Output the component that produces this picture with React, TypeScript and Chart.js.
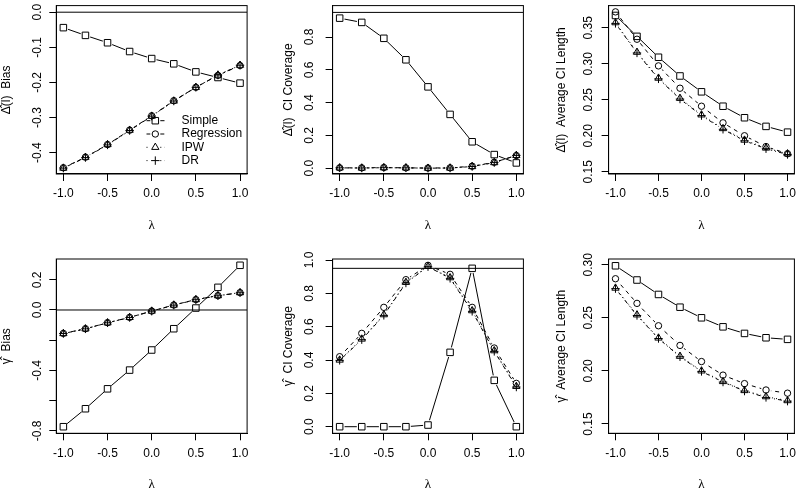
import React, { useEffect, useRef } from "react";
import { Chart, registerables } from "chart.js";

Chart.register(...registerables);

// ---------------- data ----------------
const LAMBDA = [-1, -0.75, -0.5, -0.25, 0, 0.25, 0.5, 0.75, 1];
const X_TICKS = [-1, -0.5, 0, 0.5, 1];
const SERIES = ["Simple", "Regression", "IPW", "DR"];

// Δ̂(l) Bias
const DB_SIMPLE = [-0.044, -0.066, -0.087, -0.112, -0.132, -0.147, -0.17, -0.186, -0.202];
const DB_REG = [-0.443, -0.413, -0.377, -0.336, -0.295, -0.252, -0.214, -0.18, -0.152];
const DB_IPW = [-0.444, -0.413, -0.377, -0.336, -0.296, -0.253, -0.214, -0.179, -0.151];
const DB_DR = [-0.444, -0.414, -0.378, -0.337, -0.296, -0.253, -0.214, -0.179, -0.151];

// Δ̂(l) CI Coverage
const DC_SIMPLE = [0.915, 0.889, 0.792, 0.661, 0.496, 0.328, 0.161, 0.083, 0.032];
const DC_REG = [0.002, 0.002, 0.004, 0.002, 0.001, 0.002, 0.012, 0.036, 0.077];
const DC_IPW = [0.002, 0.001, 0.003, 0.002, 0.0, 0.001, 0.01, 0.034, 0.078];
const DC_DR = [0.002, 0.001, 0.003, 0.002, 0.0, 0.001, 0.01, 0.034, 0.078];

// Δ̂(l) Average CI Length
const DL_SIMPLE = [0.367, 0.338, 0.309, 0.283, 0.261, 0.241, 0.225, 0.213, 0.205];
const DL_REG = [0.372, 0.334, 0.297, 0.266, 0.241, 0.218, 0.2, 0.185, 0.175];
const DL_IPW = [0.357, 0.316, 0.28, 0.252, 0.229, 0.21, 0.194, 0.183, 0.175];
const DL_DR = [0.356, 0.315, 0.279, 0.251, 0.228, 0.209, 0.193, 0.182, 0.174];

// γ̂ Bias
const GB_SIMPLE = [-0.773, -0.654, -0.522, -0.398, -0.265, -0.124, 0.013, 0.15, 0.296];
const GB_REG = [-0.155, -0.124, -0.084, -0.049, -0.007, 0.033, 0.069, 0.095, 0.115];
const GB_IPW = [-0.156, -0.125, -0.085, -0.049, -0.007, 0.033, 0.069, 0.095, 0.115];
const GB_DR = [-0.156, -0.125, -0.085, -0.05, -0.008, 0.032, 0.068, 0.094, 0.114];

// γ̂ CI Coverage
const GC_SIMPLE = [0.0, 0.0, 0.0, 0.0, 0.01, 0.446, 0.95, 0.278, 0.0];
const GC_REG = [0.42, 0.56, 0.716, 0.882, 0.968, 0.914, 0.716, 0.472, 0.26];
const GC_IPW = [0.4, 0.526, 0.672, 0.866, 0.962, 0.894, 0.696, 0.456, 0.242];
const GC_DR = [0.398, 0.522, 0.668, 0.862, 0.96, 0.89, 0.692, 0.452, 0.238];

// γ̂ Average CI Length
const GL_SIMPLE = [0.299, 0.2856, 0.272, 0.26, 0.25, 0.2415, 0.2353, 0.2312, 0.2297];
const GL_REG = [0.2868, 0.2636, 0.2425, 0.224, 0.2088, 0.196, 0.188, 0.182, 0.179];
const GL_IPW = [0.278, 0.2528, 0.231, 0.2138, 0.2, 0.19, 0.1815, 0.1757, 0.172];
const GL_DR = [0.2775, 0.2522, 0.2305, 0.2133, 0.1995, 0.1895, 0.181, 0.175, 0.1715];

// axis ticks
const DB_YTICKS = [0, -0.1, -0.2, -0.3, -0.4];
const DC_YTICKS = [0, 0.2, 0.4, 0.6, 0.8];
const DL_YTICKS = [0.15, 0.2, 0.25, 0.3, 0.35];
const GB_YTICKS = [0.2, 0, -0.2, -0.4, -0.6, -0.8];
const GB_YLABELS = [0.2, 0, -0.4, -0.8];
const GC_YTICKS = [0, 0.2, 0.4, 0.6, 0.8, 1.0];
const GL_YTICKS = [0.15, 0.2, 0.25, 0.3];

// ---------------- layout / style ----------------
const FONT = '"Liberation Sans", Arial, Helvetica, sans-serif';
const SERIF = '"Liberation Serif", "DejaVu Serif", serif';
const CW = 800;
const CH = 520;
const XMIN = -1.08;
const XMAX = 1.08;
const YW = 56;
const XH = 60;
const COL_L = [56.3, 332.6, 608.6];
const BOX_W = 190.8;
const ROW_T = [0.5, 259];
const ROW_B = [174, 433.3];
const YLAB_X = [38, 309.5, 588.3];
const YTITLE_X = [7, 289, 562];

const STYLES = [
  { style: "rect", r: 4.6, dash: [] as number[] },
  { style: "circle", r: 3.2, dash: [4, 4] },
  { style: "triangle", r: 4.2, dash: [1, 3] },
  { style: "cross", r: 4.2, dash: [1, 3, 4, 3] },
];

type PanelCfg = {
  row: number;
  col: number;
  ymin: number;
  ymax: number;
  yTicks: number[];
  yLabels: number[];
  dec: number;
  ref: number | null;
  title: string;
  values: number[][];
  legend: boolean;
};

const PANELS: PanelCfg[] = [
  { row: 0, col: 0, ymin: -0.4608, ymax: 0.0188, yTicks: DB_YTICKS, yLabels: DB_YTICKS, dec: 1, ref: 0, title: "\u0394\u0302(l)  Bias", values: [DB_SIMPLE, DB_REG, DB_IPW, DB_DR], legend: true },
  { row: 0, col: 1, ymin: -0.0355, ymax: 0.9915, yTicks: DC_YTICKS, yLabels: DC_YTICKS, dec: 1, ref: 0.95, title: "\u0394\u0302(l)  CI Coverage", values: [DC_SIMPLE, DC_REG, DC_IPW, DC_DR], legend: false },
  { row: 0, col: 2, ymin: 0.1469, ymax: 0.3807, yTicks: DL_YTICKS, yLabels: DL_YTICKS, dec: 2, ref: null, title: "\u0394\u0302(l)  Average CI Length", values: [DL_SIMPLE, DL_REG, DL_IPW, DL_DR], legend: false },
  { row: 1, col: 0, ymin: -0.8166, ymax: 0.3377, yTicks: GB_YTICKS, yLabels: GB_YLABELS, dec: 1, ref: 0, title: "\u03B3\u0302  Bias", values: [GB_SIMPLE, GB_REG, GB_IPW, GB_DR], legend: false },
  { row: 1, col: 1, ymin: -0.0396, ymax: 1.006, yTicks: GC_YTICKS, yLabels: GC_YTICKS, dec: 1, ref: 0.95, title: "\u03B3\u0302  CI Coverage", values: [GC_SIMPLE, GC_REG, GC_IPW, GC_DR], legend: false },
  { row: 1, col: 2, ymin: 0.1412, ymax: 0.3054, yTicks: GL_YTICKS, yLabels: GL_YTICKS, dec: 2, ref: null, title: "\u03B3\u0302  Average CI Length", values: [GL_SIMPLE, GL_REG, GL_IPW, GL_DR], legend: false },
];

const fmt = (v: number, d: number) => {
  const s = Math.abs(v) < 1e-9 ? 0 : v;
  return s.toFixed(d);
};

function drawSym(ctx: CanvasRenderingContext2D, style: string, x: number, y: number, r: number) {
  ctx.beginPath();
  if (style === "rect") {
    const s = r * Math.SQRT1_2;
    ctx.rect(x - s, y - s, 2 * s, 2 * s);
  } else if (style === "circle") {
    ctx.arc(x, y, r, 0, Math.PI * 2);
  } else if (style === "triangle") {
    for (let k = 0; k < 3; k++) {
      const a = (k * 2 * Math.PI) / 3;
      const px = x + Math.sin(a) * r;
      const py = y - Math.cos(a) * r;
      if (k === 0) ctx.moveTo(px, py);
      else ctx.lineTo(px, py);
    }
    ctx.closePath();
  } else {
    ctx.moveTo(x - r, y);
    ctx.lineTo(x + r, y);
    ctx.moveTo(x, y - r);
    ctx.lineTo(x, y + r);
  }
  ctx.stroke();
}

function Panel({ cfg }: { cfg: PanelCfg }) {
  const ref = useRef<HTMLCanvasElement | null>(null);
  useEffect(() => {
    if (!ref.current) return;
    const boxL = COL_L[cfg.col];
    const boxR = boxL + BOX_W;
    const boxT = ROW_T[cfg.row];
    const boxB = ROW_B[cfg.row];
    const pts = (arr: number[]) => arr.map((y, i) => ({ x: LAMBDA[i], y }));

    const datasets: any[] = [];
    if (cfg.ref !== null) {
      datasets.push({
        data: [{ x: XMIN, y: cfg.ref }, { x: XMAX, y: cfg.ref }],
        showLine: true,
        borderColor: "#000",
        borderWidth: 1,
        pointRadius: 0,
      });
    }
    SERIES.forEach((name, k) => {
      const st = STYLES[k];
      datasets.push({
        label: name + " line",
        data: pts(cfg.values[k]),
        showLine: true,
        borderColor: "#000",
        borderWidth: 1,
        borderDash: st.dash,
        pointRadius: 0,
        tension: 0,
        gap: 5,
      });
      datasets.push({
        label: name,
        data: pts(cfg.values[k]),
        showLine: false,
        pointStyle: st.style,
        pointRadius: st.r,
        pointBorderColor: "#000",
        pointBackgroundColor: "rgba(0,0,0,0)",
        pointBorderWidth: 1,
      });
    });

    const gapPlugin = {
      id: "gapPlugin",
      beforeDatasetDraw(chart: any, args: any) {
        const ds = chart.data.datasets[args.index];
        if (!ds.gap) return;
        const ctx = chart.ctx;
        ctx.save();
        ctx.beginPath();
        ctx.rect(0, 0, chart.width, chart.height);
        for (const el of args.meta.data) {
          ctx.moveTo(el.x + ds.gap, el.y);
          ctx.arc(el.x, el.y, ds.gap, 0, Math.PI * 2);
        }
        ctx.clip("evenodd");
      },
      afterDatasetDraw(chart: any, args: any) {
        const ds = chart.data.datasets[args.index];
        if (!ds.gap) return;
        chart.ctx.restore();
      },
    };

    const decoPlugin = {
      id: "decoPlugin",
      afterDraw(chart: any) {
        const ctx = chart.ctx as CanvasRenderingContext2D;
        const a = chart.chartArea;
        ctx.save();
        ctx.strokeStyle = "#000";
        ctx.lineWidth = 1;
        ctx.setLineDash([]);
        ctx.strokeRect(a.left, a.top, a.right - a.left, a.bottom - a.top);
        // rotated y tick labels
        const ys = chart.scales.y;
        ctx.fillStyle = "#000";
        ctx.font = `12px ${FONT}`;
        ctx.textAlign = "center";
        ctx.textBaseline = "middle";
        for (const v of cfg.yLabels) {
          const py = ys.getPixelForValue(v);
          ctx.save();
          ctx.translate(YLAB_X[cfg.col], py);
          ctx.rotate(-Math.PI / 2);
          ctx.fillText(fmt(v, cfg.dec), 0, 0);
          ctx.restore();
        }
        if (cfg.legend) {
          const rowsY = [120.7, 134, 147.3, 160.6];
          const cx = 155.3;
          SERIES.forEach((name, k) => {
            const st = STYLES[k];
            const y = rowsY[k];
            ctx.setLineDash(st.dash);
            ctx.beginPath();
            ctx.moveTo(146.5, y);
            ctx.lineTo(cx - 5, y);
            ctx.moveTo(cx + 5, y);
            ctx.lineTo(164.5, y);
            ctx.stroke();
            ctx.setLineDash([]);
            drawSym(ctx, st.style, cx, y, st.r);
            ctx.textAlign = "left";
            ctx.fillText(name, 181.5, y);
          });
        }
        ctx.restore();
      },
    };

    const chart = new Chart(ref.current, {
      type: "scatter",
      data: { datasets },
      plugins: [gapPlugin, decoPlugin],
      options: {
        responsive: false,
        animation: false,
        events: [],
        layout: {
          padding: {
            left: boxL - YW,
            right: CW - boxR,
            top: boxT,
            bottom: CH - boxB - XH,
          },
        },
        plugins: { legend: { display: false }, tooltip: { enabled: false } },
        scales: {
          x: {
            type: "linear",
            position: "bottom",
            min: XMIN,
            max: XMAX,
            afterBuildTicks: (s: any) => {
              s.ticks = X_TICKS.map((v) => ({ value: v }));
            },
            afterFit: (s: any) => {
              s.height = XH;
              s.paddingLeft = 0;
              s.paddingRight = 0;
            },
            ticks: {
              autoSkip: false,
              maxRotation: 0,
              minRotation: 0,
              padding: 5.8,
              color: "#000",
              font: { family: FONT, size: 12 },
              callback: (v: any) => fmt(Number(v), 1),
            },
            grid: { drawOnChartArea: false, drawTicks: true, tickLength: 7, color: "#000", lineWidth: 1 },
            border: { display: true, color: "#000", width: 1 },
            title: {
              display: true,
              text: "\u03BB",
              color: "#000",
              font: { family: SERIF, size: 13, lineHeight: 1.2 },
              padding: { top: 0, bottom: XH - 51.7 - 7.8 },
            },
          },
          y: {
            type: "linear",
            position: "left",
            min: cfg.ymin,
            max: cfg.ymax,
            afterBuildTicks: (s: any) => {
              s.ticks = cfg.yTicks.map((v) => ({ value: v }));
            },
            afterFit: (s: any) => {
              s.width = YW;
              s.paddingTop = 0;
              s.paddingBottom = 0;
            },
            ticks: { display: false },
            grid: { drawOnChartArea: false, drawTicks: true, tickLength: 7, color: "#000", lineWidth: 1 },
            border: { display: true, color: "#000", width: 1 },
            title: {
              display: true,
              text: cfg.title,
              color: "#000",
              font: { family: FONT, size: 12, lineHeight: 1.2 },
              padding: { top: YTITLE_X[cfg.col] - (boxL - YW) - 7.2, bottom: 0 },
            },
          },
        },
      } as any,
    });
    return () => chart.destroy();
  }, [cfg]);
  return (
    <canvas
      ref={ref}
      width={CW}
      height={CH}
      style={{ position: "absolute", left: 0, top: 0, width: CW, height: CH }}
    />
  );
}

export default function App() {
  return (
    <div
      style={{
        position: "absolute",
        left: 0,
        top: 0,
        width: 800,
        height: 488,
        overflow: "hidden",
        background: "#fff",
      }}
    >
      {PANELS.map((p, i) => (
        <Panel key={i} cfg={p} />
      ))}
    </div>
  );
}
